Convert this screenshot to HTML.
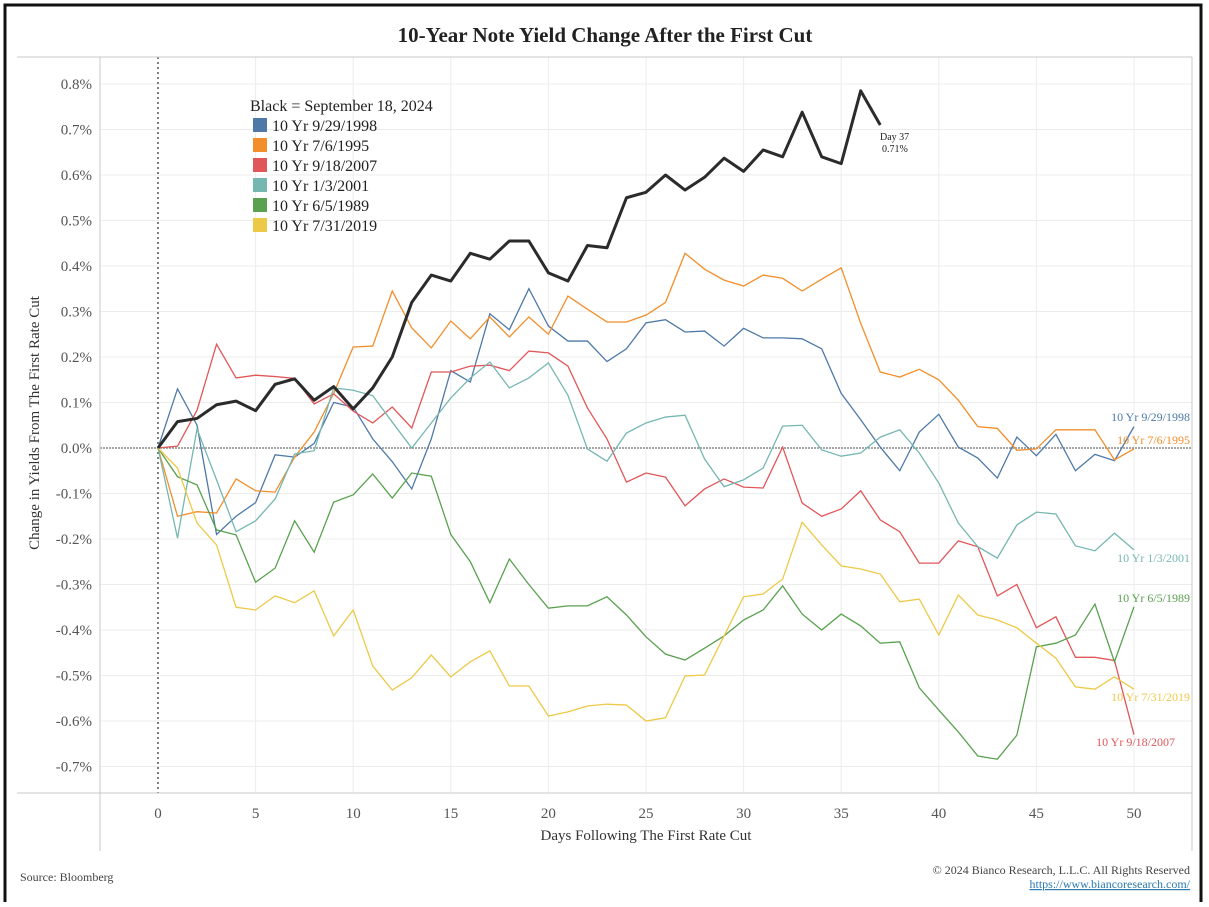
<!DOCTYPE html>
<html><head><meta charset="utf-8">
<style>
body{margin:0;background:#fff;}
svg text{font-family:"Liberation Serif",serif;}
</style></head>
<body>
<svg id="chart" width="1209" height="902" viewBox="0 0 1209 902" xmlns="http://www.w3.org/2000/svg">
<rect x="5" y="5" width="1196" height="900" fill="#fff" stroke="#111" stroke-width="3"/>
<text x="605" y="42" text-anchor="middle" font-size="21" font-weight="bold" fill="#222">10-Year Note Yield Change After the First Cut</text>
<g id="grid"></g>
<line x1="17" y1="57" x2="1192" y2="57" stroke="#c8c8c8"/>
<line x1="17" y1="793" x2="1192" y2="793" stroke="#c8c8c8"/>
<line x1="100" y1="57" x2="100" y2="851" stroke="#c8c8c8"/>
<line x1="1192" y1="57" x2="1192" y2="851" stroke="#c8c8c8"/>
<g id="ticks"></g>
<g id="series"></g>
<text transform="translate(39,423) rotate(-90)" text-anchor="middle" font-size="15" fill="#333">Change in Yields From The First Rate Cut</text>
<text x="646" y="840" text-anchor="middle" font-size="15" fill="#333">Days Following The First Rate Cut</text>
<g>
<text x="250" y="111" font-size="16" fill="#222">Black = September 18, 2024</text>
<g id="legend"></g>
</g>
<text x="880" y="140" font-size="10" fill="#222">Day 37</text>
<text x="882" y="152" font-size="10" fill="#222">0.71%</text>
<text x="20" y="881" font-size="12" fill="#444">Source: Bloomberg</text>
<text x="1190" y="874" text-anchor="end" font-size="12" fill="#444">© 2024 Bianco Research, L.L.C. All Rights Reserved</text>
<text x="1190" y="888" text-anchor="end" font-size="12" fill="#2a7ab0" text-decoration="underline">https://www.biancoresearch.com/</text>
</svg>
<script>
const days = Array.from({length:51},(_, i)=>i);
const xTicks = [0,5,10,15,20,25,30,35,40,45,50];
const yTicks = [0.8,0.7,0.6,0.5,0.4,0.3,0.2,0.1,0.0,-0.1,-0.2,-0.3,-0.4,-0.5,-0.6,-0.7];
const seriesNames = ["10 Yr  9/29/1998","10 Yr  7/6/1995","10 Yr  9/18/2007","10 Yr  1/3/2001","10 Yr  6/5/1989","10 Yr  7/31/2019"];
const seriesColors = ["#4e79a7","#f28e2b","#e15759","#76b7b2","#59a14f","#edc948"];
const s1998 = [0,0.13,0.05,-0.19,-0.15,-0.12,-0.015,-0.02,0.01,0.1,0.09,0.02,-0.03,-0.09,0.02,0.17,0.145,0.295,0.26,0.35,0.268,0.235,0.235,0.19,0.218,0.275,0.282,0.255,0.257,0.224,0.263,0.242,0.242,0.24,0.218,0.12,0.062,0.002,-0.05,0.035,0.074,0.002,-0.022,-0.066,0.024,-0.017,0.03,-0.05,-0.014,-0.028,0.047];
const s1995 = [0,-0.15,-0.14,-0.143,-0.068,-0.094,-0.097,-0.02,0.035,0.12,0.222,0.224,0.345,0.264,0.22,0.279,0.24,0.288,0.244,0.288,0.25,0.334,0.305,0.277,0.277,0.292,0.32,0.428,0.393,0.369,0.356,0.38,0.373,0.345,0.371,0.396,0.274,0.167,0.156,0.173,0.15,0.105,0.047,0.043,-0.005,-0.002,0.04,0.04,0.04,-0.026,-0.002];
const s2007 = [0,0.004,0.083,0.228,0.154,0.16,0.157,0.153,0.097,0.119,0.081,0.055,0.09,0.044,0.167,0.167,0.18,0.182,0.17,0.213,0.209,0.18,0.088,0.02,-0.075,-0.055,-0.064,-0.127,-0.09,-0.068,-0.086,-0.088,0.002,-0.121,-0.15,-0.134,-0.094,-0.158,-0.184,-0.253,-0.253,-0.204,-0.217,-0.325,-0.3,-0.395,-0.371,-0.46,-0.46,-0.467,-0.63];
const s2001 = [0,-0.198,0.042,-0.07,-0.184,-0.16,-0.112,-0.013,-0.006,0.132,0.127,0.115,0.057,0,0.055,0.11,0.154,0.189,0.132,0.154,0.187,0.116,-0.002,-0.029,0.033,0.055,0.068,0.072,-0.024,-0.085,-0.07,-0.044,0.048,0.05,-0.004,-0.018,-0.011,0.024,0.04,-0.011,-0.077,-0.165,-0.217,-0.242,-0.169,-0.141,-0.145,-0.215,-0.226,-0.187,-0.224];
const s1989 = [0,-0.063,-0.081,-0.18,-0.191,-0.295,-0.264,-0.16,-0.229,-0.119,-0.103,-0.057,-0.11,-0.055,-0.062,-0.19,-0.25,-0.34,-0.244,-0.3,-0.352,-0.347,-0.347,-0.327,-0.367,-0.415,-0.453,-0.466,-0.44,-0.413,-0.378,-0.356,-0.303,-0.365,-0.4,-0.365,-0.391,-0.429,-0.426,-0.527,-0.576,-0.624,-0.677,-0.684,-0.631,-0.437,-0.429,-0.411,-0.343,-0.47,-0.349];
const s2019 = [0,-0.044,-0.165,-0.213,-0.35,-0.356,-0.325,-0.34,-0.314,-0.413,-0.356,-0.479,-0.532,-0.505,-0.455,-0.503,-0.47,-0.446,-0.523,-0.523,-0.589,-0.58,-0.567,-0.563,-0.565,-0.6,-0.593,-0.501,-0.499,-0.413,-0.327,-0.321,-0.288,-0.163,-0.213,-0.259,-0.266,-0.277,-0.338,-0.332,-0.411,-0.323,-0.367,-0.378,-0.395,-0.429,-0.462,-0.525,-0.53,-0.503,-0.53];
const s2024 = [0,0.058,0.065,0.095,0.103,0.082,0.14,0.152,0.105,0.135,0.086,0.132,0.2,0.32,0.38,0.367,0.428,0.415,0.455,0.455,0.385,0.367,0.445,0.44,0.55,0.562,0.6,0.567,0.595,0.637,0.608,0.655,0.64,0.738,0.64,0.625,0.785,0.71];
const endLabels = ["10 Yr  9/29/1998","10 Yr  7/6/1995","10 Yr  9/18/2007","10 Yr  1/3/2001","10 Yr  6/5/1989","10 Yr  7/31/2019"];

const NS="http://www.w3.org/2000/svg";
function xs(d){return 158 + d*19.52;}
function ys(v){return 448 - v*455;}
function mk(tag,attrs,parent){const e=document.createElementNS(NS,tag);for(const k in attrs)e.setAttribute(k,attrs[k]);parent.appendChild(e);return e;}
const grid=document.getElementById('grid'), ticks=document.getElementById('ticks'), ser=document.getElementById('series'), leg=document.getElementById('legend');
for(const d of xTicks){
  if(d!==0){
    const l=mk('line',{x1:xs(d),y1:57,x2:xs(d),y2:793,stroke:'#ececec'},grid);
    
    
  }
  const t=mk('text',{x:xs(d),y:818,'text-anchor':'middle','font-size':15,fill:'#555'},ticks);
  t.textContent=d;
  
  
}
for(const v of yTicks){
  if(Math.abs(v)>1e-9){
    const l=mk('line',{x1:100,y1:ys(v),x2:1192,y2:ys(v),stroke:'#ececec'},grid);
    
    
  }
  const t=mk('text',{x:92,y:ys(v)+5,'text-anchor':'end','font-size':15,fill:'#555'},ticks);
  t.textContent=v.toFixed(1)+'%';
  
  
}
const zl=mk('line',{x1:100,y1:ys(0),x2:1192,y2:ys(0),stroke:'#888','stroke-width':1.5,'stroke-dasharray':'2,1'},grid);


const vl=mk('line',{x1:xs(0),y1:57,x2:xs(0),y2:793,stroke:'#555','stroke-width':1.5,'stroke-dasharray':'2,3'},grid);



const allSeries=[s1998,s1995,s2007,s2001,s1989,s2019];
const labelPos=[[1190,421],[1190,444],[1175,746],[1190,562],[1190,602],[1190,701]];
allSeries.forEach((s,i)=>{
  const p=mk('polyline',{points:s.map((v,j)=>xs(days[j])+','+ys(v)).join(' '),fill:'none',stroke:seriesColors[i],'stroke-width':1.3},ser);
  
  
  const t=mk('text',{x:labelPos[i][0],y:labelPos[i][1],'text-anchor':'end','font-size':12,fill:seriesColors[i]},ser);
  t.textContent=endLabels[i];
  
  
  const r=mk('rect',{x:253,y:118+i*20,width:14,height:14,fill:seriesColors[i]},leg);
  
  
  const lt=mk('text',{x:272,y:131+i*20,'font-size':16,fill:'#222'},leg);
  lt.textContent=seriesNames[i];
  
  
});
const bl=mk('polyline',{points:s2024.map((v,j)=>xs(days[j])+','+ys(v)).join(' '),fill:'none',stroke:'#2b2b2b','stroke-width':3,'stroke-linejoin':'round'},ser);


</script>
</body></html>
